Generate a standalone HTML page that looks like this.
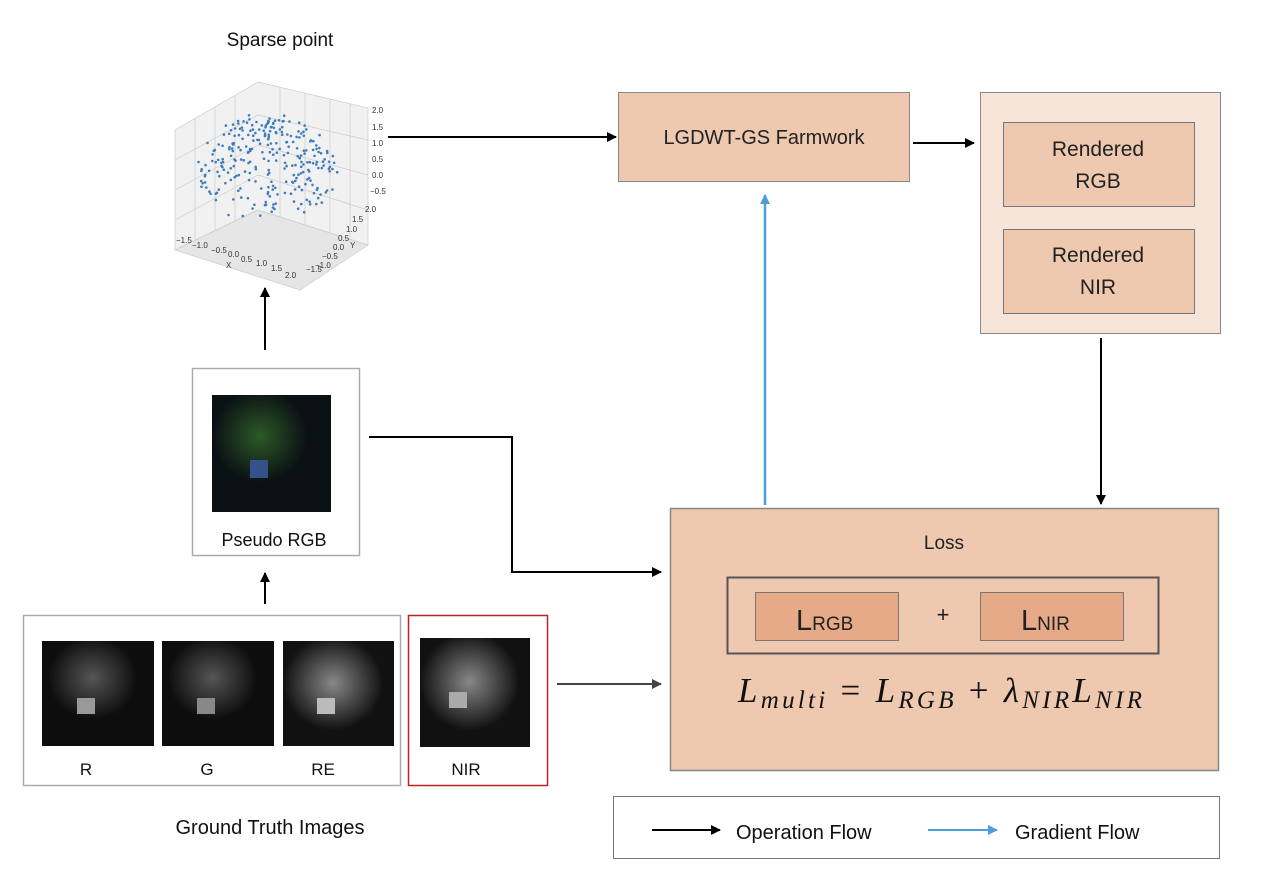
<!DOCTYPE html>
<html><head><meta charset="utf-8"><style>
body{margin:0;background:#fff}
svg{display:block;font-family:"Liberation Sans",sans-serif}
</style></head><body>
<svg id="s" width="1278" height="890" viewBox="0 0 1278 890" xmlns="http://www.w3.org/2000/svg">
<defs>
<marker id="a" markerWidth="10" markerHeight="10" refX="9" refY="5" orient="auto" markerUnits="userSpaceOnUse"><path d="M0,0 L10,5 L0,10 z" fill="#000"/></marker>
<marker id="ag" markerWidth="10" markerHeight="10" refX="9" refY="5" orient="auto" markerUnits="userSpaceOnUse"><path d="M0,0 L10,5 L0,10 z" fill="#444"/></marker>
<marker id="ab" markerWidth="10" markerHeight="10" refX="9" refY="5" orient="auto" markerUnits="userSpaceOnUse"><path d="M0,0 L10,5 L0,10 z" fill="#4a9fd8"/></marker>
<radialGradient id="plant" cx="0.4" cy="0.35" r="0.4"><stop offset="0" stop-color="#2c5a26"/><stop offset="1" stop-color="#0b1014"/></radialGradient>
<radialGradient id="gp" cx="0.45" cy="0.35" r="0.4"><stop offset="0" stop-color="#555"/><stop offset="1" stop-color="#0d0d0d"/></radialGradient>
<radialGradient id="gp2" cx="0.45" cy="0.4" r="0.45"><stop offset="0" stop-color="#888"/><stop offset="1" stop-color="#111"/></radialGradient>
</defs>
<text x="280" y="46" font-size="19" text-anchor="middle" fill="#111">Sparse point</text>
<g id="plot" stroke="#ccc" stroke-width="0.7" fill="none">
<polygon points="175,130 258,82 368,108 368,245 258,210 175,250" fill="#f1f1f1"/>
<polygon points="175,250 258,210 368,245 300,290" fill="#e6e6e6"/>
<path d="M195,118V240 M215,107V230 M235,95V220 M280,87V217 M305,93V225 M330,99V232 M350,104V238 M175,160L258,115 M175,190L258,145 M175,220L258,175 M258,115L368,140 M258,145L368,175 M258,175L368,210"/>
</g>
<g font-size="8" fill="#333">
<text x="372" y="113">2.0</text><text x="372" y="130">1.5</text><text x="372" y="146">1.0</text><text x="372" y="162">0.5</text><text x="372" y="178">0.0</text><text x="370" y="194">−0.5</text>
<text x="176" y="243">−1.5</text><text x="192" y="248">−1.0</text><text x="211" y="253">−0.5</text><text x="228" y="257">0.0</text><text x="241" y="262">0.5</text><text x="256" y="266">1.0</text><text x="271" y="271">1.5</text><text x="285" y="278">2.0</text><text x="226" y="268">X</text>
<text x="365" y="212">2.0</text><text x="352" y="222">1.5</text><text x="346" y="232">1.0</text><text x="338" y="241">0.5</text><text x="333" y="250">0.0</text><text x="322" y="259">−0.5</text><text x="315" y="268">−1.0</text><text x="306" y="272">−1.5</text><text x="350" y="248">Y</text>
</g>
<g id="dots" fill="#3d7dc0"></g>
<line x1="388" y1="137" x2="616" y2="137" stroke="#000" stroke-width="2" marker-end="url(#a)"/>
<rect x="618.5" y="92.5" width="291" height="89" fill="#eec8af" stroke="#888"/>
<text x="764" y="144" font-size="20" text-anchor="middle" fill="#222">LGDWT-GS Farmwork</text>
<line x1="913" y1="143" x2="974" y2="143" stroke="#000" stroke-width="2" marker-end="url(#a)"/>
<rect x="980.5" y="92.5" width="240" height="241" fill="#f8e5da" stroke="#888"/>
<rect x="1003.5" y="122.5" width="191" height="84" fill="#eec8af" stroke="#777"/>
<text x="1098" y="156" font-size="21" text-anchor="middle" fill="#222">Rendered</text><text x="1098" y="188" font-size="21" text-anchor="middle" fill="#222">RGB</text>
<rect x="1003.5" y="229.5" width="191" height="84" fill="#eec8af" stroke="#777"/>
<text x="1098" y="262" font-size="21" text-anchor="middle" fill="#222">Rendered</text><text x="1098" y="294" font-size="21" text-anchor="middle" fill="#222">NIR</text>
<line x1="1101" y1="338" x2="1101" y2="504" stroke="#000" stroke-width="2" marker-end="url(#a)"/>
<line x1="765" y1="505" x2="765" y2="195" stroke="#4a9fd8" stroke-width="2.5" marker-end="url(#ab)"/>
<rect x="670.5" y="508.5" width="548" height="262" fill="#eec8af" stroke="#888" stroke-width="1.5"/>
<text x="944" y="549" font-size="19" text-anchor="middle" fill="#222">Loss</text>
<rect x="727.5" y="577.5" width="431" height="76" fill="none" stroke="#555" stroke-width="2"/>
<rect x="755.5" y="592.5" width="143" height="48" fill="#e6aa88" stroke="#777"/>
<rect x="980.5" y="592.5" width="143" height="48" fill="#e6aa88" stroke="#777"/>
<text x="796" y="630" font-size="29" fill="#222">L<tspan font-size="19">RGB</tspan></text>
<text x="1021" y="630" font-size="29" fill="#222">L<tspan font-size="19">NIR</tspan></text>
<text x="943" y="622" font-size="22" text-anchor="middle" fill="#222">+</text>
<text x="738" y="702" font-size="35" font-family="'Liberation Serif',serif" font-style="italic" fill="#111" textLength="404" lengthAdjust="spacing">L<tspan font-size="25" dy="6">multi</tspan><tspan dy="-6" font-style="normal"> = </tspan>L<tspan font-size="25" dy="6">RGB</tspan><tspan dy="-6" font-style="normal"> + </tspan>λ<tspan font-size="25" dy="6">NIR</tspan><tspan dy="-6">L</tspan><tspan font-size="25" dy="6">NIR</tspan></text>
<line x1="265" y1="350" x2="265" y2="288" stroke="#000" stroke-width="2" marker-end="url(#a)"/>
<rect x="192.5" y="368.5" width="167" height="187" fill="#fff" stroke="#aaa" stroke-width="1.5"/>
<rect x="212" y="395" width="119" height="117" fill="url(#plant)"/>
<rect x="250" y="460" width="18" height="18" fill="#34528a"/>
<text x="274" y="546" font-size="18" text-anchor="middle" fill="#111">Pseudo RGB</text>
<polyline points="369,437 512,437 512,572 661,572" fill="none" stroke="#000" stroke-width="2" marker-end="url(#a)"/>
<line x1="265" y1="604" x2="265" y2="573" stroke="#000" stroke-width="2" marker-end="url(#a)"/>
<rect x="23.5" y="615.5" width="377" height="170" fill="#fff" stroke="#aaa" stroke-width="1.5"/>
<rect x="42" y="641" width="112" height="105" fill="url(#gp)"/>
<rect x="162" y="641" width="112" height="105" fill="url(#gp)"/>
<rect x="283" y="641" width="111" height="105" fill="url(#gp2)"/>
<rect x="77" y="698" width="18" height="16" fill="#999"/><rect x="197" y="698" width="18" height="16" fill="#888"/><rect x="317" y="698" width="18" height="16" fill="#bbb"/>
<text x="86" y="775" font-size="17" text-anchor="middle" fill="#111">R</text>
<text x="207" y="775" font-size="17" text-anchor="middle" fill="#111">G</text>
<text x="323" y="775" font-size="17" text-anchor="middle" fill="#111">RE</text>
<rect x="408.5" y="615.5" width="139" height="170" fill="#fff" stroke="#b22" stroke-width="1.5"/>
<rect x="420" y="638" width="110" height="109" fill="url(#gp2)"/>
<rect x="449" y="692" width="18" height="16" fill="#aaa"/>
<text x="466" y="775" font-size="17" text-anchor="middle" fill="#111">NIR</text>
<line x1="557" y1="684" x2="661" y2="684" stroke="#444" stroke-width="2" marker-end="url(#ag)"/>
<text x="270" y="834" font-size="20" text-anchor="middle" fill="#111">Ground Truth Images</text>
<rect x="613.5" y="796.5" width="606" height="62" fill="#fff" stroke="#777"/>
<line x1="652" y1="830" x2="720" y2="830" stroke="#000" stroke-width="2" marker-end="url(#a)"/>
<text x="736" y="839" font-size="20" fill="#111">Operation Flow</text>
<line x1="928" y1="830" x2="997" y2="830" stroke="#4a9fd8" stroke-width="2" marker-end="url(#ab)"/>
<text x="1015" y="839" font-size="20" fill="#111">Gradient Flow</text>
</svg>
<script>
var g=document.getElementById('dots'),s=7,h='';
function r(){s=(s*9301+49297)%233280;return s/233280;}
for(var i=0;i<280;i++){var a=r()*6.283,d=Math.sqrt(r());var x=268+Math.cos(a)*d*70,y=165+Math.sin(a)*d*52-(1-d)*25+r()*10;
h+='<circle cx="'+x.toFixed(1)+'" cy="'+y.toFixed(1)+'" r="1.3"/>';}
g.innerHTML=h;
</script>
</body></html>
